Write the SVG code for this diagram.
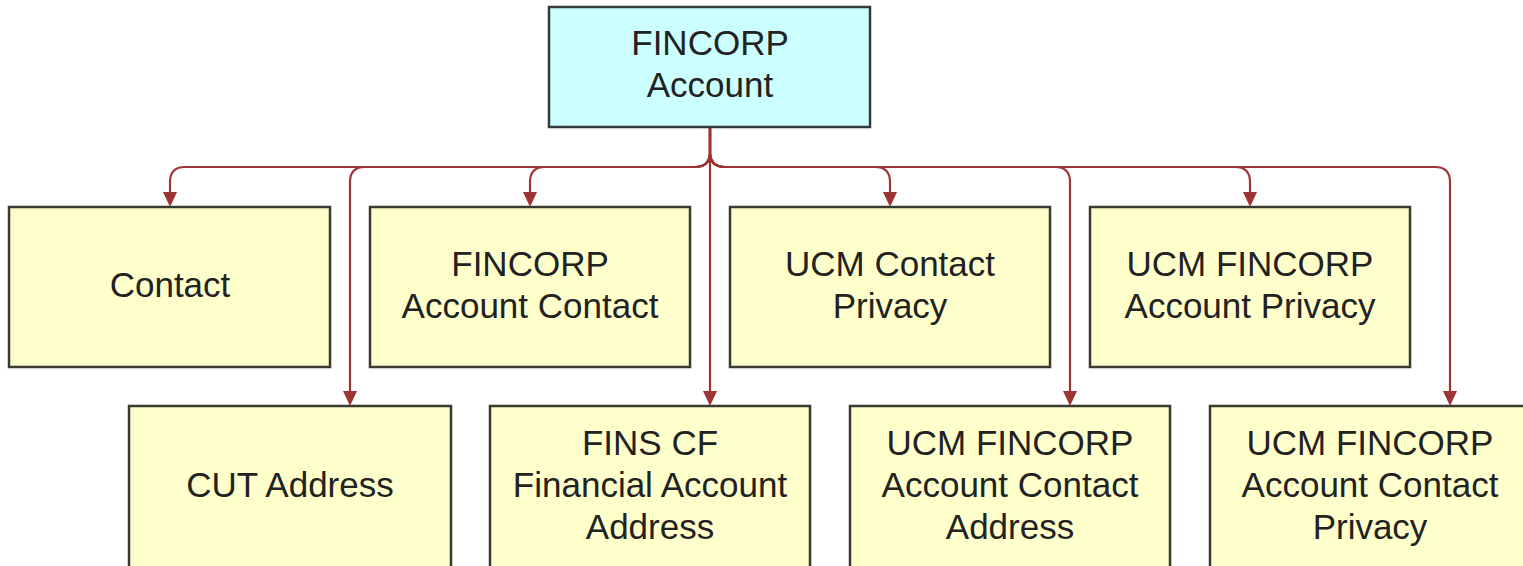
<svg xmlns="http://www.w3.org/2000/svg" width="1523" height="566" viewBox="0 0 1523 566">
<defs>
<style>
.box{fill:#ffffcc;stroke:#3a3a30;stroke-width:2.5}
.root{fill:#ccffff;stroke:#333a3a;stroke-width:2.5}
.lbl{font-family:"Liberation Sans",Arial,sans-serif;font-size:35px;fill:#222;text-anchor:middle}
.c{fill:none;stroke:#9e3434;stroke-width:2.2}
</style>
</defs>
<rect width="1523" height="566" fill="#fff"/>
<g id="connectors">
<path class="c" d="M710,127 V152 Q710,167 695,167 H185 Q170,167 170,182 V195"/>
<path class="c" d="M710,127 V152 Q710,167 695,167 H365 Q350,167 350,182 V394"/>
<path class="c" d="M710,127 V152 Q710,167 695,167 H545 Q530,167 530,182 V195"/>
<path class="c" d="M710,127 V394"/>
<path class="c" d="M710,127 V152 Q710,167 725,167 H875 Q890,167 890,182 V195"/>
<path class="c" d="M710,127 V152 Q710,167 725,167 H1055 Q1070,167 1070,182 V394"/>
<path class="c" d="M710,127 V152 Q710,167 725,167 H1235 Q1250,167 1250,182 V195"/>
<path class="c" d="M710,127 V152 Q710,167 725,167 H1435 Q1450,167 1450,182 V394"/>
<g fill="#9e3434">
<path d="M163,192 H177 L170,207 Z"/>
<path d="M343,391 H357 L350,406 Z"/>
<path d="M523,192 H537 L530,207 Z"/>
<path d="M703,391 H717 L710,406 Z"/>
<path d="M883,192 H897 L890,207 Z"/>
<path d="M1063,391 H1077 L1070,406 Z"/>
<path d="M1243,192 H1257 L1250,207 Z"/>
<path d="M1443,391 H1457 L1450,406 Z"/>
</g>
</g>
<g id="root">
<rect class="root" x="549" y="7" width="321" height="120"/>
<text class="lbl" x="710" y="55">FINCORP</text>
<text class="lbl" x="710" y="97">Account</text>
</g>
<g id="contact">
<rect class="box" x="9" y="207" width="321" height="160"/>
<text class="lbl" x="170" y="297">Contact</text>
</g>
<g id="fincorp-account-contact">
<rect class="box" x="370" y="207" width="320" height="160"/>
<text class="lbl" x="530" y="276">FINCORP</text>
<text class="lbl" x="530" y="318">Account Contact</text>
</g>
<g id="ucm-contact-privacy">
<rect class="box" x="730" y="207" width="320" height="160"/>
<text class="lbl" x="890" y="276">UCM Contact</text>
<text class="lbl" x="890" y="318">Privacy</text>
</g>
<g id="ucm-fincorp-account-privacy">
<rect class="box" x="1090" y="207" width="320" height="160"/>
<text class="lbl" x="1250" y="276">UCM FINCORP</text>
<text class="lbl" x="1250" y="318">Account Privacy</text>
</g>
<g id="cut-address">
<rect class="box" x="129" y="406" width="322" height="170"/>
<text class="lbl" x="290" y="497">CUT Address</text>
</g>
<g id="fins-cf-financial-account-address">
<rect class="box" x="490" y="406" width="320" height="170"/>
<text class="lbl" x="650" y="455">FINS CF</text>
<text class="lbl" x="650" y="497">Financial Account</text>
<text class="lbl" x="650" y="539">Address</text>
</g>
<g id="ucm-fincorp-account-contact-address">
<rect class="box" x="850" y="406" width="320" height="170"/>
<text class="lbl" x="1010" y="455">UCM FINCORP</text>
<text class="lbl" x="1010" y="497">Account Contact</text>
<text class="lbl" x="1010" y="539">Address</text>
</g>
<g id="ucm-fincorp-account-contact-privacy">
<rect class="box" x="1210" y="406" width="320" height="170"/>
<text class="lbl" x="1370" y="455">UCM FINCORP</text>
<text class="lbl" x="1370" y="497">Account Contact</text>
<text class="lbl" x="1370" y="539">Privacy</text>
</g>
</svg>
